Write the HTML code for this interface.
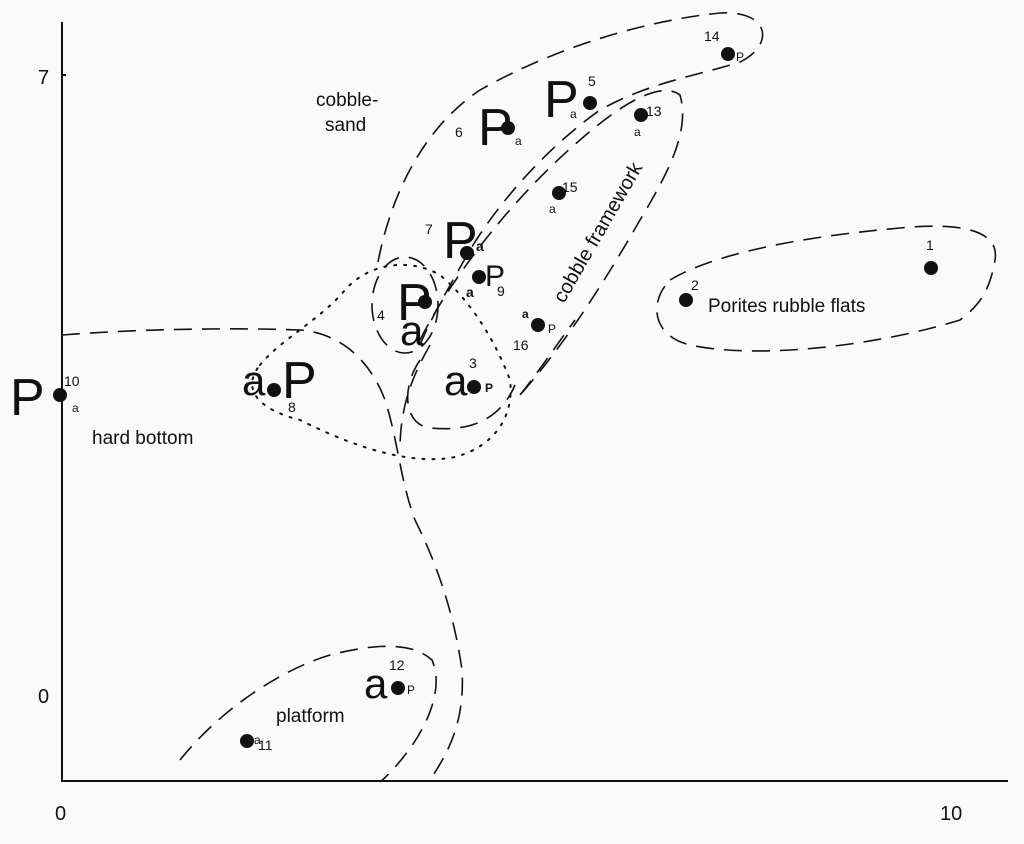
<!DOCTYPE html>
<html><head><meta charset="utf-8"><style>
html,body{margin:0;padding:0;background:#fafafa}
svg{display:block}
text{font-family:"Liberation Sans",sans-serif;fill:#111}
</style></head><body>
<svg width="1024" height="844" viewBox="0 0 1024 844" xmlns="http://www.w3.org/2000/svg">
<rect width="1024" height="844" fill="#fafafa"/>
<g stroke="#111" stroke-width="2" fill="none">
<line x1="62" y1="22" x2="62" y2="782"/>
<line x1="62" y1="781" x2="1008" y2="781"/>
<line x1="62" y1="75" x2="66" y2="75"/>
</g>
<text x="38" y="84" font-family="Liberation Serif" font-size="20">7</text>
<text x="38" y="703" font-size="20">0</text>
<text x="55" y="820" font-size="20">0</text>
<text x="940" y="820" font-size="20">10</text>

<g stroke="#111" stroke-width="1.6" fill="none" stroke-dasharray="18,10">
<path d="M378,262 C390,200 420,130 480,90 C560,45 650,20 720,13 C770,10 775,45 740,62 C700,75 650,82 600,110 C550,145 500,200 470,250 C450,285 430,320 420,345"/>
<path d="M420,340 C450,280 510,200 580,140 C620,105 660,80 680,95 C690,130 670,170 640,220 C600,290 560,350 520,395"/>
<path d="M670,280 C720,250 820,235 900,228 C960,222 1000,230 995,260 C990,290 980,305 960,320 C880,345 760,360 690,345 C650,335 650,300 670,280"/>
<path d="M62,335 C150,328 250,328 300,330 C340,333 370,360 385,400 C398,440 400,480 415,520 C440,570 455,620 462,670 C465,720 450,750 430,780"/>
<path d="M430,345 C410,380 400,410 400,450"/>
<ellipse cx="405" cy="305" rx="33" ry="48"/>
<path d="M420,360 C400,390 405,425 430,428 C470,432 500,420 515,385"/>
<path d="M180,760 C220,710 280,670 330,655 C370,645 410,640 432,660 C445,690 425,730 405,755 C395,768 385,778 380,782"/>
<path d="M520,395 C540,370 560,340 575,320"/>
</g>
<path d="M260,365 C280,340 320,320 345,290 C370,262 410,258 440,275 C470,300 495,340 510,380 C515,420 490,450 450,458 C400,465 340,440 300,420 C260,410 240,390 260,365" fill="none" stroke="#111" stroke-width="2" stroke-dasharray="2,8" stroke-linecap="round"/>

<g fill="#111">
<circle cx="931" cy="268" r="7"/><circle cx="686" cy="300" r="7"/>
<circle cx="474" cy="387" r="7"/><circle cx="425" cy="302" r="7"/>
<circle cx="590" cy="103" r="7"/><circle cx="508" cy="128" r="7"/>
<circle cx="467" cy="253" r="7"/><circle cx="274" cy="390" r="7"/>
<circle cx="479" cy="277" r="7"/><circle cx="60" cy="395" r="7"/>
<circle cx="247" cy="741" r="7"/><circle cx="398" cy="688" r="7"/>
<circle cx="641" cy="115" r="7"/><circle cx="728" cy="54" r="7"/>
<circle cx="559" cy="193" r="7"/><circle cx="538" cy="325" r="7"/>
</g>

<g font-size="14">
<text x="926" y="250">1</text><text x="691" y="290">2</text>
<text x="469" y="368">3</text><text x="377" y="320">4</text>
<text x="588" y="86">5</text><text x="455" y="137">6</text>
<text x="425" y="234">7</text><text x="288" y="412">8</text>
<text x="497" y="296">9</text><text x="64" y="386">10</text>
<text x="258" y="750">11</text><text x="389" y="670">12</text>
<text x="646" y="116">13</text><text x="704" y="41">14</text>
<text x="562" y="192">15</text><text x="513" y="350">16</text>
<text x="72" y="412" font-size="12">a</text>
<text x="515" y="145" font-size="12">a</text>
<text x="570" y="118" font-size="12">a</text>
<text x="634" y="136" font-size="12">a</text>
<text x="549" y="213" font-size="12">a</text>
<text x="736" y="61" font-size="12">P</text>
<text x="476" y="251" font-size="14" font-weight="bold">a</text>
<text x="466" y="297" font-size="14" font-weight="bold">a</text>
<text x="522" y="318" font-size="12" font-weight="bold">a</text>
<text x="548" y="333" font-size="12">P</text>
<text x="485" y="392" font-size="12" font-weight="bold">P</text>
<text x="407" y="694" font-size="12">P</text>
<text x="254" y="744" font-size="12">a</text>
</g>
<g font-size="52">
<text x="10" y="415">P</text>
<text x="478" y="145">P</text>
<text x="544" y="117">P</text>
<text x="443" y="258">P</text>
<text x="397" y="320">P</text>
<text x="282" y="398">P</text>
</g>
<g font-size="30">
<text x="485" y="286">P</text>
</g>
<g font-size="42">
<text x="400" y="345">a</text>
<text x="242" y="395">a</text>
<text x="444" y="395">a</text>
<text x="364" y="698">a</text>
</g>
<g font-size="19">
<text x="316" y="106">cobble-</text>
<text x="325" y="131">sand</text>
<text x="92" y="444">hard bottom</text>
<text x="276" y="722">platform</text>
<text x="708" y="312">Porites  rubble flats</text>
<text font-size="20" transform="translate(564,304) rotate(-60)">cobble framework</text>
</g>
</svg>
</body></html>
